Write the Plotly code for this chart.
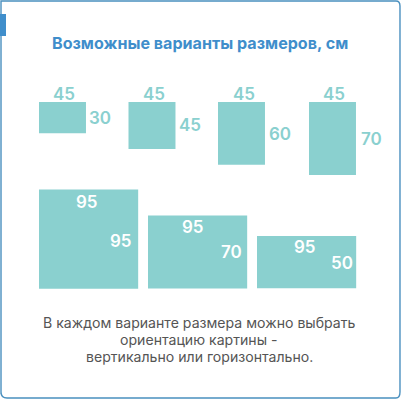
import plotly.graph_objects as go

# sizes in cm
widths = [45, 45, 45, 45, 95, 95, 95]
heights = [30, 45, 60, 70, 95, 70, 50]
title_text = "Возможные варианты размеров, см"
note_lines = [
    "В каждом варианте размера можно выбрать",
    "ориентацию картины -",
    "вертикально или горизонтально.",
]

PX = 1.044  # pixels per cm
W, H = 402, 400
TEAL = "#8ad0cf"
BLUE = "#3f8ecb"
FONT = "Inter"

lefts = [39, 128.5, 218, 309, 39, 148, 257]
tops = [102, 102, 102, 102, 189.5, 215.5, 236]

# (value, x px, y px, colour)
labels = [
    (widths[0], 64, 93.5, TEAL), (heights[0], 99.5, 118, TEAL),
    (widths[1], 154, 93.5, TEAL), (heights[1], 189.5, 125, TEAL),
    (widths[2], 244, 93.5, TEAL), (heights[2], 280, 134, TEAL),
    (widths[3], 334, 93.5, TEAL), (heights[3], 371, 139, TEAL),
    (widths[4], 87, 201.5, "white"), (heights[4], 121, 241, "white"),
    (widths[5], 193, 226.5, "white"), (heights[5], 231, 252, "white"),
    (widths[6], 305, 246.5, "white"), (heights[6], 342, 263, "white"),
]

fig = go.Figure(
    go.Bar(
        x=[l / PX + w / 2 for l, w in zip(lefts, widths)],
        y=heights,
        base=[t / PX for t in tops],
        width=widths,
        marker=dict(color=TEAL, line=dict(width=0)),
        hoverinfo="skip",
    )
)

for value, x, y, colour in labels:
    fig.add_annotation(
        x=x / PX, y=y / PX, text=str(value), showarrow=False,
        font=dict(family=FONT, size=17, color=colour, weight=600),
    )

fig.add_annotation(
    x=199.5 / PX, y=43 / PX, text=title_text, showarrow=False,
    font=dict(family=FONT, size=16.1, color=BLUE, weight=700),
)
for line, y in zip(note_lines, [322.5, 339.5, 356.5]):
    fig.add_annotation(
        x=199 / PX, y=y / PX, text=line, showarrow=False,
        font=dict(family=FONT, size=14.1, color="#555555"),
    )

# card outline with rounded corners, and the blue tab on its left edge
fig.add_shape(
    type="path", xref="paper", yref="paper",
    path="M 0.0025 0.015 L 0.0025 0.9975 L 0.985 0.9975 Q 0.995 0.9975 0.995 0.985 "
         "L 0.995 0.02 Q 0.995 0.005 0.985 0.005 L 0.0175 0.005 Q 0.0025 0.005 0.0025 0.02 Z",
    line=dict(color="#4a90bf", width=1.4),
)
fig.add_shape(
    type="rect", xref="paper", yref="paper",
    x0=0, x1=6 / W, y0=1 - 36 / H, y1=1 - 14 / H,
    fillcolor="#3f8ecb", line=dict(width=0),
)

fig.update_layout(
    width=W, height=H,
    margin=dict(l=0, r=0, t=0, b=0),
    paper_bgcolor="white", plot_bgcolor="white",
    showlegend=False,
    xaxis=dict(range=[0, W / PX], visible=False),
    yaxis=dict(range=[H / PX, 0], visible=False),
)

fig.write_html(
    "out.html",
    config={"displayModeBar": False},
    post_script="document.body.style.margin = '0';",
)
